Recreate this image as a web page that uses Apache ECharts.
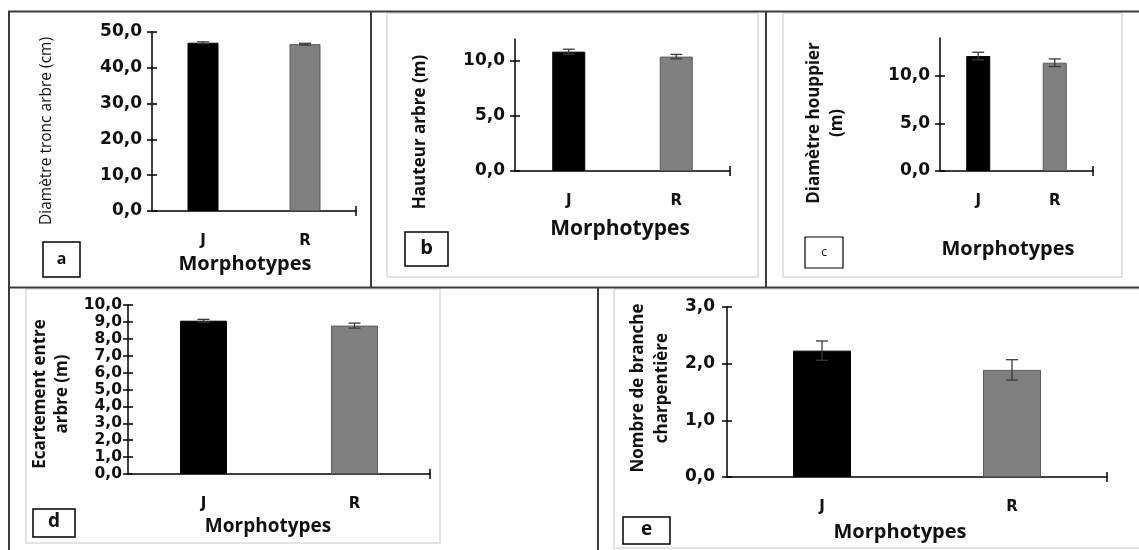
<!DOCTYPE html>
<html>
<head>
<meta charset="utf-8">
<script src="https://cdn.jsdelivr.net/npm/echarts@6/dist/echarts.min.js"></script>
<style>
html,body{margin:0;padding:0;background:#fff;}
#c{width:1139px;height:550px;}
</style>
</head>
<body>
<div id="c"></div>
<script>
// ---------- data ----------
var categories = ['J', 'R'];
var barColors = ['#000000', '#808080'];

var diamTronc = [47.0, 46.6];
var diamTroncErr = [0.25, 0.25];
var diamTroncTicks = [0, 10, 20, 30, 40, 50];

var hauteur = [10.85, 10.4];
var hauteurErr = [0.22, 0.2];
var hauteurTicks = [0, 5, 10];

var houppier = [12.1, 11.4];
var houppierErr = [0.4, 0.4];
var houppierTicks = [0, 5, 10];

var ecartement = [9.07, 8.78];
var ecartementErr = [0.08, 0.15];
var ecartementTicks = [0, 1, 2, 3, 4, 5, 6, 7, 8, 9, 10];

var branches = [2.23, 1.89];
var branchesErr = [0.17, 0.18];
var branchesTicks = [0, 1, 2, 3];

var xTitle = 'Morphotypes';
var yTitles = ['Diamètre tronc arbre (cm)', 'Hauteur arbre (m)', 'Diamètre houppier\n(m)', 'Ecartement entre\narbre (m)', 'Nombre de branche\ncharpentière'];
var panelLetters = ['a', 'b', 'c', 'd', 'e'];

// ---------- layout ----------
var panels = [
  {vals: diamTronc, errs: diamTroncErr, ticks: diamTroncTicks, max: 50, grid: {left: 152, top: 32, width: 204, height: 179}, barWidth: 31, labelSize: 17},
  {vals: hauteur, errs: hauteurErr, ticks: hauteurTicks, max: 12, grid: {left: 515, top: 39, width: 215, height: 132}, barWidth: 33, labelSize: 17},
  {vals: houppier, errs: houppierErr, ticks: houppierTicks, max: 14, grid: {left: 940, top: 38, width: 153, height: 133}, barWidth: 24, labelSize: 17},
  {vals: ecartement, errs: ecartementErr, ticks: ecartementTicks, max: 10, grid: {left: 128, top: 305, width: 302, height: 169}, barWidth: 47, labelSize: 15.5},
  {vals: branches, errs: branchesErr, ticks: branchesTicks, max: 3, grid: {left: 727, top: 307, width: 380, height: 170}, barWidth: 58, labelSize: 17}
];
var labelMargins = [10, 10, 10, 6, 12];

function fmt(v) { return v.toFixed(1).replace('.', ','); }

var grids = [], xAxes = [], yAxes = [], series = [];
panels.forEach(function (p, k) {
  grids.push(Object.assign({containLabel: false}, p.grid));
  xAxes.push({
    type: 'category', gridIndex: k, data: categories,
    axisLine: {lineStyle: {color: '#000', width: 1.5}, symbol: ['none', 'rect'], symbolSize: [10, 1.5]},
    axisTick: {alignWithLabel: true, length: 6, lineStyle: {color: '#000', width: 1.5}},
    axisLabel: {margin: 23, color: '#111', fontFamily: 'DejaVu Sans', fontWeight: 'bold', fontSize: 15},
    splitLine: {show: false}
  });
  yAxes.push({
    type: 'value', gridIndex: k, min: 0, max: p.max, position: 'left',
    axisLine: {show: true, lineStyle: {color: '#000', width: 1.5}},
    axisTick: {show: true, length: 5, customValues: p.ticks, lineStyle: {color: '#000', width: 1.5}},
    axisLabel: {customValues: p.ticks, formatter: fmt, margin: labelMargins[k], color: '#111', fontFamily: 'DejaVu Sans', fontWeight: 'bold', fontSize: p.labelSize},
    splitLine: {show: false}
  });
  yAxes.push({
    type: 'value', gridIndex: k, min: 0, max: p.max, position: 'left', offset: 0,
    axisLine: {show: false},
    axisTick: {show: true, inside: true, length: 5, customValues: p.ticks, lineStyle: {color: '#000', width: 1.5}},
    axisLabel: {show: false},
    splitLine: {show: false}
  });
  series.push({
    type: 'bar', xAxisIndex: k, yAxisIndex: 2 * k, barWidth: p.barWidth,
    data: p.vals.map(function (v, i) { return {value: v, itemStyle: {color: barColors[i], borderColor: i ? '#5a5a5a' : '#000', borderWidth: 1}}; }),
    silent: true
  });
  series.push({
    type: 'custom', xAxisIndex: k, yAxisIndex: 2 * k, silent: true, z: 5,
    data: p.vals.map(function (v, i) { return [i, v - p.errs[i], v + p.errs[i]]; }),
    renderItem: function (params, api) {
      var lo = api.coord([api.value(0), api.value(1)]);
      var hi = api.coord([api.value(0), api.value(2)]);
      var w = 6;
      var st = {stroke: '#3a3a3a', lineWidth: 1.3};
      return {type: 'group', children: [
        {type: 'line', shape: {x1: hi[0], y1: hi[1], x2: lo[0], y2: lo[1]}, style: st},
        {type: 'line', shape: {x1: hi[0] - w, y1: hi[1], x2: hi[0] + w, y2: hi[1]}, style: st},
        {type: 'line', shape: {x1: lo[0] - w, y1: lo[1], x2: lo[0] + w, y2: lo[1]}, style: st}
      ]};
    }
  });
});

// ---------- frames & texts ----------
var frameColor = '#3c3c3c';
var innerColor = '#dadada';
var F = '"Open Sans"';
function ln(x1, y1, x2, y2, c, w) { return {type: 'line', silent: true, shape: {x1: x1, y1: y1, x2: x2, y2: y2}, style: {stroke: c, lineWidth: w}}; }
function rc(x, y, w, h, c, lw) { return {type: 'rect', silent: true, shape: {x: x, y: y, width: w, height: h}, style: {fill: 'none', stroke: c, lineWidth: lw}}; }
function tx(x, y, t, font, rot, lh) {
  return {type: 'text', silent: true, x: x, y: y, rotation: rot || 0,
    style: {text: t, font: font, fill: '#111', align: 'center', verticalAlign: 'middle', textAlign: 'center', textVerticalAlign: 'middle', lineHeight: lh || undefined}};
}

var graphics = [
  rc(387, 13, 371, 264, innerColor, 1.5),
  rc(783, 13, 339, 264, innerColor, 1.5),
  rc(26, 289, 414, 254, innerColor, 1.5),
  rc(614, 289, 530, 259, innerColor, 1.5),
  ln(8, 11.5, 1139, 11.5, frameColor, 2),
  ln(8, 287.5, 1139, 287.5, frameColor, 2),
  ln(9, 11, 9, 550, frameColor, 2),
  ln(371, 11, 371, 288, frameColor, 2),
  ln(766, 11, 766, 288, frameColor, 2),
  ln(598, 288, 598, 550, frameColor, 2),
  // letter boxes
  rc(43, 242, 37, 35, '#000', 1.5),
  rc(405, 232, 43, 34, '#000', 1.5),
  rc(805, 237, 38, 31, '#000', 1.2),
  rc(33, 509, 42, 28, '#000', 1.5),
  rc(623, 517, 47, 27, '#000', 1.5),
  tx(61.5, 259, panelLetters[0], 'bold 16px ' + F),
  tx(426.5, 248, panelLetters[1], 'bold 20px ' + F),
  tx(824, 253, panelLetters[2], '12px ' + F),
  tx(54, 522, panelLetters[3], 'bold 19px ' + F),
  tx(646.5, 530, panelLetters[4], 'bold 19px ' + F),
  // x titles
  tx(245, 264, xTitle, 'bold 20px ' + F),
  tx(620, 229, xTitle, 'bold 21px ' + F),
  tx(1008, 249, xTitle, 'bold 20px ' + F),
  tx(268, 527, xTitle, 'bold 19px ' + F),
  tx(900, 532, xTitle, 'bold 20px ' + F),
  // y titles
  tx(47, 131, yTitles[0], '15.5px ' + F, Math.PI / 2),
  tx(420, 132, yTitles[1], 'bold 17px ' + F, Math.PI / 2),
  tx(826, 123, yTitles[2], 'bold 17px ' + F, Math.PI / 2, 23),
  tx(51, 394, yTitles[3], 'bold 17px ' + F, Math.PI / 2, 22),
  tx(650, 388, yTitles[4], 'bold 17px ' + F, Math.PI / 2, 24)
];

var chart = echarts.init(document.getElementById('c'), null, {renderer: 'canvas'});
chart.setOption({
  backgroundColor: '#fff',
  animation: false,
  grid: grids,
  xAxis: xAxes,
  yAxis: yAxes,
  series: series,
  graphic: graphics
});
</script>
</body>
</html>
